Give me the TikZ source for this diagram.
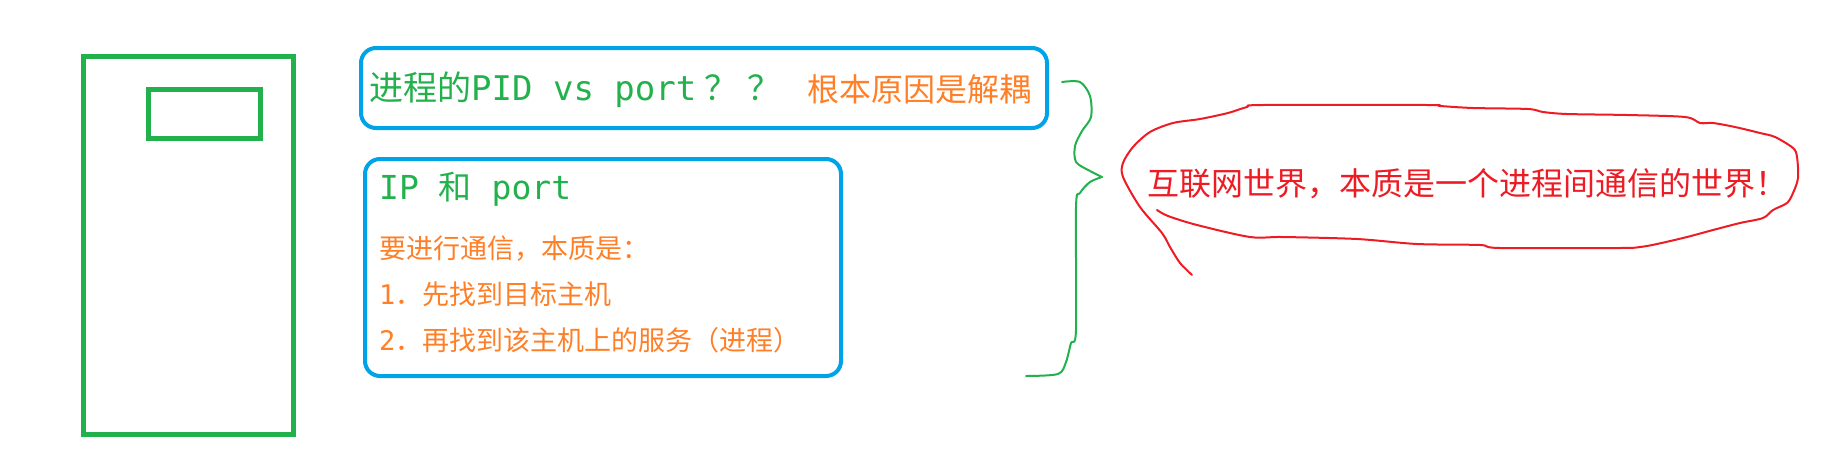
\documentclass[tikz,border=0pt]{standalone}
\usepackage{fontspec}
\setmainfont{Noto Sans CJK SC}
\newfontfamily\codefont{DejaVu Sans Mono}
\usepackage{tikz}
\definecolor{pgreen}{RGB}{34,177,76}
\definecolor{pblue}{RGB}{0,162,232}
\definecolor{porange}{RGB}{255,127,39}
\definecolor{pred}{RGB}{237,28,36}
\tikzstyle{hostbox} = [draw=pgreen, line width=5pt, inner sep=0pt, outer sep=0pt]
\tikzstyle{card} = [draw=pblue, line width=4pt, rounded corners=15pt, inner sep=0pt]
\tikzstyle{txt} = [inner sep=0pt, anchor=base west]
\tikzstyle{note} = [txt, color=porange, font=\fontsize{27}{32}\selectfont]
\tikzstyle{sketch} = [line width=2pt, line join=round, line cap=round]

\begin{document}
\begin{tikzpicture}[x=1pt,y=-1pt]
    \useasboundingbox (0,0) rectangle (1836,469);
    % host
    \node[hostbox, minimum width=210pt, minimum height=378pt](host) at (188.5,245.5){};
    \node[hostbox, minimum width=112pt, minimum height=49pt](slot) at (204.5,114){};
    % boxes
    \node[card, minimum width=686pt, minimum height=80pt](box1) at (704,88){};
    \node[card, minimum width=476pt, minimum height=217pt](box2) at (603,267.5){};
    \node[txt, color=pgreen, font=\fontsize{34}{40}\selectfont](q) at (369,100){进程的{\codefont PID vs port}\hspace{8pt}？\hspace{9pt}？};
    \node[txt, color=porange, font=\fontsize{32}{38}\selectfont](why) at (807,101){根本原因是解耦};
    \node[txt, color=pgreen, font=\fontsize{33}{40}\selectfont](title) at (379,199){{\codefont IP }和{\codefont\ port}};
    \node[note](l1) at (379,258){要进行通信，本质是：};
    \node[note](l2) at (379,304){{\codefont 1}．先找到目标主机};
    \node[note](l3) at (379,350){{\codefont 2}．再找到该主机上的服务（进程）};
    % brace
    \draw[sketch, pgreen] plot[smooth, tension=0.5] coordinates {(1026,376) (1058,374) (1066,362) (1071,343) (1076,330) (1076,207) (1080,193) (1090,182) (1102,177)};
    \draw[sketch, pgreen] plot[smooth, tension=0.5] coordinates {(1102,177) (1090,171) (1076,162) (1075,146) (1082,131) (1091,117) (1090,96) (1080,82) (1062,82)};
    % bubble
    \draw[sketch, pred] plot[smooth, tension=0.5] coordinates {(1157,210) (1168,216) (1197,225) (1250,237) (1283,237) (1357,239) (1417,244) (1480,245) (1500,248) (1620,248) (1640,247) (1657,244) (1687,237) (1713,230) (1740,223) (1763,218) (1773,210) (1787,203) (1793,193) (1798,178) (1797,157) (1793,148) (1775,137) (1760,133) (1735,127) (1713,123) (1700,123) (1685,117) (1627,115) (1567,114) (1543,112) (1528,109) (1473,108) (1440,106) (1427,105) (1263,105) (1247,107) (1228,113) (1200,119) (1173,123) (1150,132) (1133,147) (1123,163) (1123,177) (1140,207) (1162,233) (1170,247) (1180,263) (1192,275)};
    \node[txt, color=pred, font=\fontsize{32}{38}\selectfont](world) at (1147,195){互联网世界，本质是一个进程间通信的世界！};
\end{tikzpicture}
\end{document}
